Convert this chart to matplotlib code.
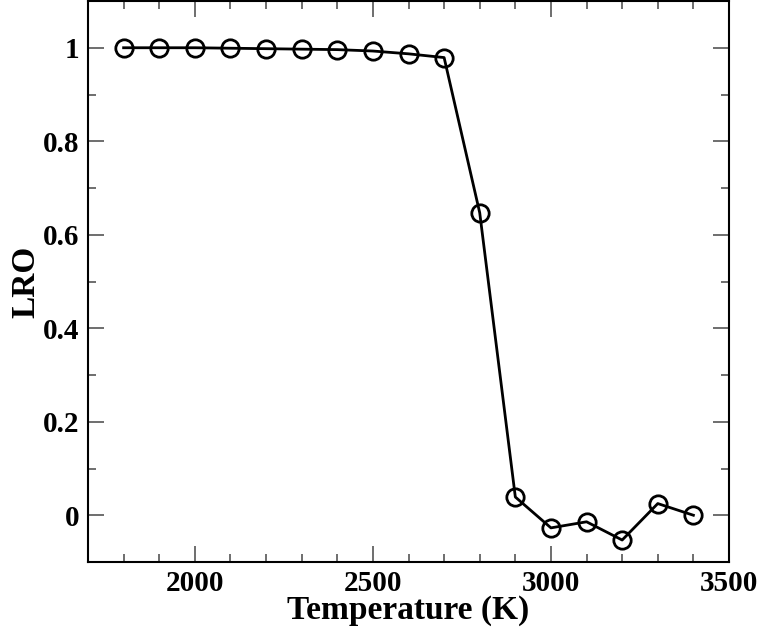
import numpy as np
import matplotlib
matplotlib.use("Agg")
import matplotlib.pyplot as plt
from matplotlib.ticker import MultipleLocator

# temperature (K) and long-range order parameter
temperature = [1800, 1900, 2000, 2100, 2200, 2300, 2400, 2500, 2600,
               2700, 2800, 2900, 3000, 3100, 3200, 3300, 3400]
lro = [1.0, 1.0, 1.0, 0.999, 0.998, 0.997, 0.996, 0.993, 0.987,
       0.979, 0.647, 0.039, -0.027, -0.014, -0.053, 0.025, 0.0]

plt.rcParams['font.family'] = ['Liberation Serif', 'DejaVu Serif']
plt.rcParams['font.weight'] = 'bold'

fig = plt.figure(figsize=(7.63, 6.33), dpi=100)
ax = fig.add_axes([88 / 763, 1 - 562 / 633, (729 - 88) / 763, (562 - 1) / 633])

ax.plot(temperature, lro, color='black', linewidth=2.0, marker='o',
        markersize=12.5, markerfacecolor='none', markeredgewidth=2.0,
        markeredgecolor='black')

ax.set_xlim(1700, 3500)
ax.set_ylim(-0.1, 1.1)
ax.xaxis.set_major_locator(MultipleLocator(500))
ax.xaxis.set_minor_locator(MultipleLocator(100))
ax.yaxis.set_major_locator(MultipleLocator(0.2))
ax.yaxis.set_minor_locator(MultipleLocator(0.1))
ax.set_yticks([0, 0.2, 0.4, 0.6, 0.8, 1.0])
ax.set_yticklabels(['0', '0.2', '0.4', '0.6', '0.8', '1'])

ax.tick_params(which='both', direction='in', top=True, right=True,
               color='#555555', labelsize=21, pad=6)
ax.tick_params(which='major', length=11.5, width=1.2)
ax.tick_params(which='minor', length=6, width=1.2)
for lbl in ax.get_xticklabels() + ax.get_yticklabels():
    lbl.set_fontweight('bold')
for sp in ax.spines.values():
    sp.set_linewidth(1.5)

ax.set_xlabel('Temperature (K)', fontsize=24, fontweight='bold', labelpad=-2)
ax.set_ylabel('LRO', fontsize=24, fontweight='bold', labelpad=1.5)

fig.savefig('out.png', dpi=100)
